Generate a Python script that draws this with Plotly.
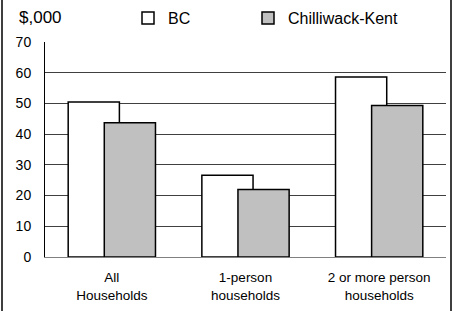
import plotly.graph_objects as go

categories = ["All<br>Households", "1-person<br>households", "2 or more person<br>households"]
bc_values = [50.5, 26.6, 58.6]
ck_values = [43.7, 22.0, 49.3]
series_names = ["BC", "Chilliwack-Kent"]

W, H = 454, 311
ml, mr, mt, mb = 45, 8, 42, 54
pw = W - ml - mr
ph = H - mt - mb

font_family = "Liberation Sans, Arial, sans-serif"


def px_to_paper_x(px):
    return (px - ml) / pw


def px_to_paper_y(py):
    return 1 - (py - mt) / ph


fig = go.Figure()
fig.add_trace(go.Bar(
    x=categories, y=bc_values, name=series_names[0],
    marker=dict(color="white", line=dict(color="black", width=1.5)),
    width=0.383, offset=-0.3265, legend="legend",
))
fig.add_trace(go.Bar(
    x=categories, y=ck_values, name=series_names[1],
    marker=dict(color="#c0c0c0", line=dict(color="black", width=1.5)),
    width=0.383, offset=-0.0565, legend="legend2",
))

legend_common = dict(
    orientation="h", xanchor="left", yanchor="middle",
    font=dict(size=16), bgcolor="rgba(0,0,0,0)",
)

fig.update_layout(
    width=W, height=H,
    margin=dict(l=ml, r=mr, t=mt, b=mb, pad=0, autoexpand=False),
    barmode="overlay",
    paper_bgcolor="white", plot_bgcolor="white",
    font=dict(family=font_family, size=14, color="black"),
    showlegend=True,
    legend=dict(x=px_to_paper_x(128), y=px_to_paper_y(18), **legend_common),
    legend2=dict(x=px_to_paper_x(248), y=px_to_paper_y(18), **legend_common),
    xaxis=dict(
        showgrid=False, showline=True, linecolor="#808080", linewidth=1,
        ticks="", tickfont=dict(size=13.5), ticklabelstandoff=8,
        range=[-0.5, 2.5], zeroline=False,
    ),
    yaxis=dict(
        range=[0, 70], dtick=10, tick0=0,
        showgrid=True, gridcolor="#404040", gridwidth=1,
        showline=True, linecolor="black", linewidth=1,
        ticks="", ticklabelstandoff=10, tickfont=dict(size=14),
        zeroline=False,
    ),
    annotations=[dict(
        text="$,000", xref="paper", yref="paper",
        x=px_to_paper_x(17), y=px_to_paper_y(17),
        xanchor="left", yanchor="middle", showarrow=False,
        font=dict(size=17),
    )],
    shapes=[dict(
        type="rect", xref="paper", yref="paper",
        x0=px_to_paper_x(2), x1=px_to_paper_x(451),
        y0=px_to_paper_y(330), y1=px_to_paper_y(-20),
        line=dict(color="black", width=1.5), fillcolor="rgba(0,0,0,0)",
        layer="above",
    )],
)

fig.write_html(
    "out.html",
    config={"displayModeBar": False},
    post_script="document.body.style.margin='0';document.body.style.overflow='hidden';",
)
